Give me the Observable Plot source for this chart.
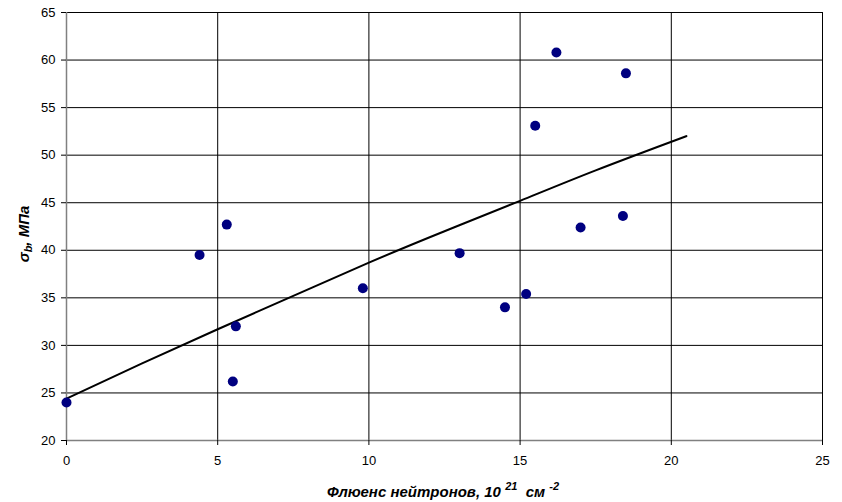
<!DOCTYPE html>
<html><head><meta charset="utf-8">
<script src="https://cdn.jsdelivr.net/npm/d3@7"></script>
<script src="https://cdn.jsdelivr.net/npm/@observablehq/plot@0.6"></script>
<style>body{margin:0;background:#fff;}</style>
</head><body><div id="chart"></div>
<script>
const fluence  = [0, 4.4, 5.3, 5.6, 5.5, 9.8, 13.0, 14.5, 15.2, 15.5, 16.2, 17.0, 18.4, 18.5];
const strength = [24.0, 39.5, 42.7, 32.0, 26.2, 36.0, 39.7, 34.0, 35.4, 53.1, 60.8, 42.4, 43.6, 58.6];
const trendX = [0, 2.5, 5, 7.5, 10, 12.5, 15, 17.5, 20.5];
const trendY = [24.4, 28.1, 31.7, 35.2, 38.7, 42.0, 45.2, 48.4, 52.0];
const xTicks = [0, 5, 10, 15, 20, 25];
const yTicks = [20, 25, 30, 35, 40, 45, 50, 55, 60, 65];

const points = fluence.map((x, i) => ({x, y: strength[i]}));
const trend = trendX.map((x, i) => ({x, y: trendY[i]}));

const chart = Plot.plot({
  width: 842, height: 502,
  marginLeft: 66, marginRight: 20, marginTop: 12, marginBottom: 62,
  style: {fontFamily: "'Liberation Sans', Arial, sans-serif", fontSize: "13px", background: "#fff", color: "#000"},
  x: {domain: [0, 25], label: null},
  y: {domain: [20, 65], label: null},
  marks: [
    Plot.gridX(xTicks.filter(d => d > 0), {stroke: "#000", strokeOpacity: 1, strokeWidth: 1}),
    Plot.gridY(yTicks.filter(d => d > 20), {stroke: "#000", strokeOpacity: 1, strokeWidth: 1}),
    Plot.ruleX([0], {stroke: "#808080", strokeWidth: 1.5}),
    Plot.ruleY([20], {stroke: "#808080", strokeWidth: 1.5}),
    Plot.axisX({ticks: xTicks, tickSize: 5, tickPadding: 10, label: null, tickFormat: d => String(d)}),
    Plot.axisY({ticks: yTicks, tickSize: 5, tickPadding: 6, label: null, tickFormat: d => String(d)}),
    Plot.line(trend, {x: "x", y: "y", stroke: "#000", strokeWidth: 2, curve: "natural"}),
    Plot.dot(points, {x: "x", y: "y", r: 5, fill: "#000080", stroke: "none"})
  ]
});
document.getElementById("chart").appendChild(chart);

const svg = d3.select(chart);
const xt = svg.append("text")
  .attr("x", 443).attr("y", 497)
  .attr("text-anchor", "middle")
  .attr("font-family", "'Liberation Sans', Arial, sans-serif")
  .attr("font-size", 15).attr("font-weight", "bold").attr("font-style", "italic")
  .style("white-space", "pre").attr("fill", "#000");
xt.append("tspan").text("Флюенс нейтронов, 10 ");
xt.append("tspan").attr("dy", -7).attr("font-size", 11).text("21");
xt.append("tspan").attr("dy", 7).text("  см ");
xt.append("tspan").attr("dy", -7).attr("font-size", 11).text("-2");

const yt = svg.append("text")
  .attr("transform", "translate(29,234) rotate(-90)")
  .attr("text-anchor", "middle")
  .attr("font-family", "'Liberation Sans', Arial, sans-serif")
  .attr("font-size", 15).attr("font-weight", "bold").attr("font-style", "italic")
  .attr("fill", "#000");
yt.append("tspan").text("σ");
yt.append("tspan").attr("dy", 3).attr("font-size", 11).text("b");
yt.append("tspan").attr("dy", -3).text(", МПа");
</script>
</body></html>
